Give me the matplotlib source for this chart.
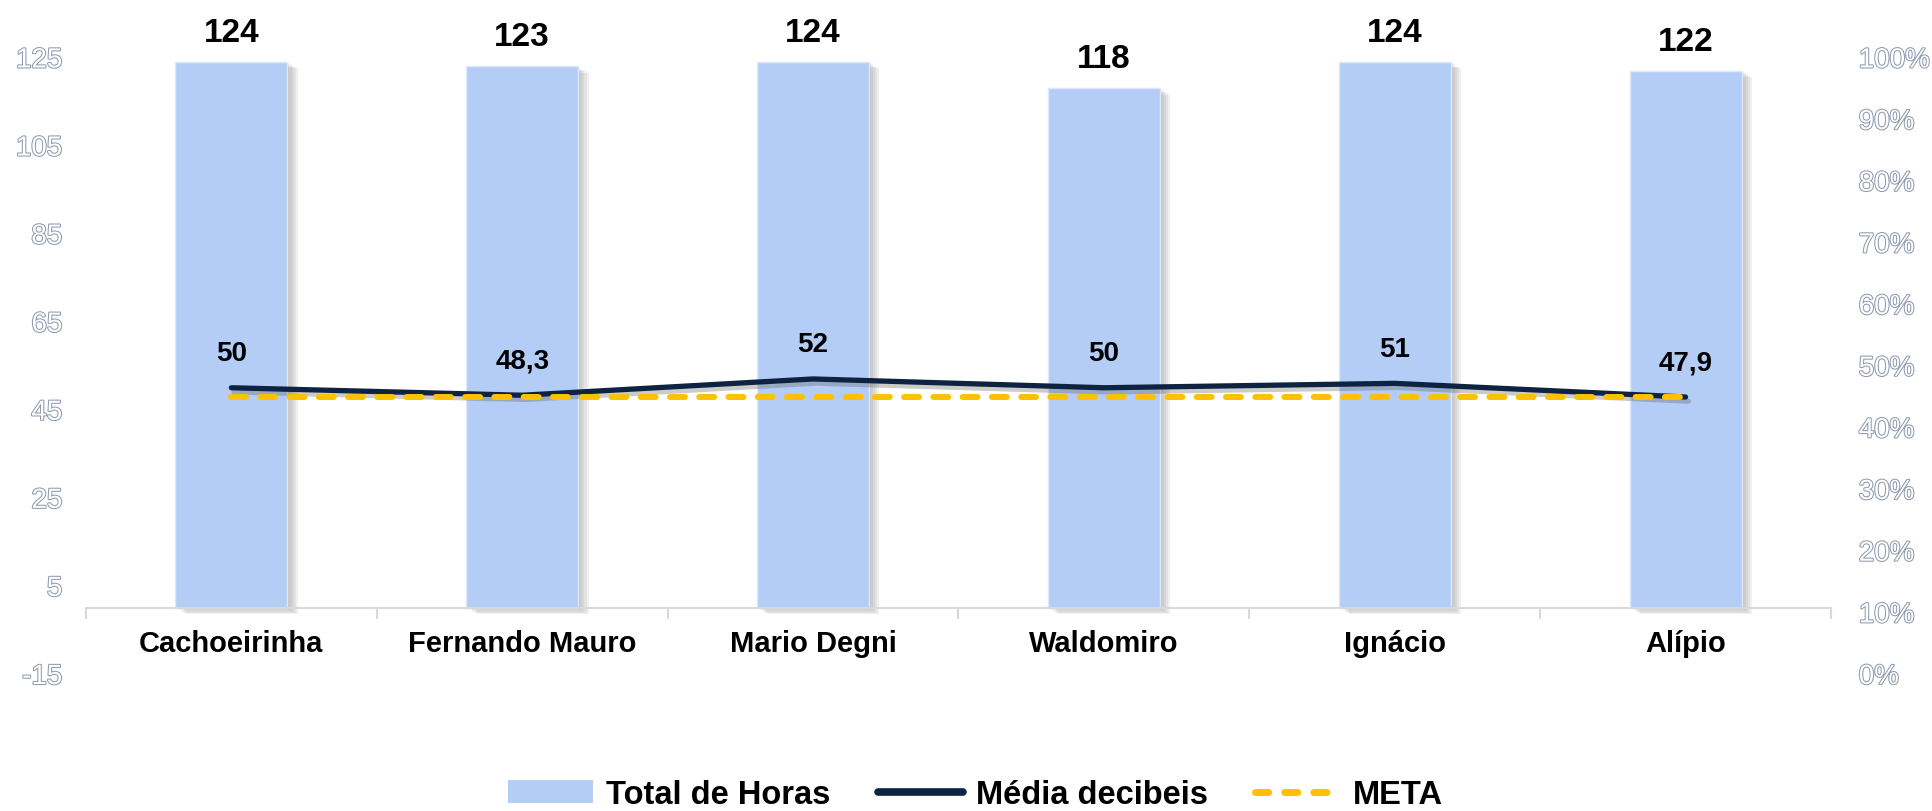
import matplotlib
matplotlib.use("Agg")
import matplotlib.pyplot as plt
import matplotlib.patheffects as pe
from matplotlib.patches import Patch
from matplotlib.lines import Line2D
import numpy as np

categories = ["Cachoeirinha", "Fernando Mauro", "Mario Degni", "Waldomiro", "Ignácio", "Alípio"]
total_horas = [124, 123, 124, 118, 124, 122]
media_db = [50, 48.3, 52, 50, 51, 47.9]
meta = [48, 48, 48, 48, 48, 48]
left_ticks = [-15, 5, 25, 45, 65, 85, 105, 125]
right_ticks = [0, 0.1, 0.2, 0.3, 0.4, 0.5, 0.6, 0.7, 0.8, 0.9, 1.0]
legend_labels = ["Total de Horas", "Média decibeis", "META"]

BAR_COLOR = "#B4CDF6"
LINE_COLOR = "#0E2341"
META_COLOR = "#FFC000"
AXIS_GRAY = "#d9d9d9"

plt.rcParams["font.family"] = ["Liberation Sans", "DejaVu Sans"]
plt.rcParams["axes.unicode_minus"] = False

fig = plt.figure(figsize=(19.32, 8.12), dpi=100)
ax = fig.add_axes([0.0445, 0.1687, 0.9032, 0.7593])

x = np.arange(len(categories))

# bars with a soft drop shadow (a few stacked faint shadows)
bar_shadow = [pe.SimplePatchShadow(offset=(d, -d * 0.6), shadow_rgbFace="#606060", alpha=0.09)
              for d in (1.5, 3, 4.5, 6, 7.5)]
bars = ax.bar(x, total_horas, width=0.385, color=BAR_COLOR, edgecolor="#dde8fa",
              linewidth=1, zorder=2)
for b in bars:
    b.set_path_effects(bar_shadow + [pe.Normal()])

ax.plot(x, media_db, color=LINE_COLOR, lw=3.8, solid_capstyle="round", zorder=4,
        path_effects=[pe.SimpleLineShadow(offset=(2, -3), shadow_color="#555555", alpha=0.3),
                      pe.Normal()])
ax.plot(x, meta, color=META_COLOR, lw=4.3, linestyle=(0, (2.5, 2.4)), dash_capstyle="round",
        zorder=5)

# data labels
for i, v in enumerate(total_horas):
    ax.annotate(str(v), (i, v), xytext=(0, 15), textcoords="offset points", ha="center",
                va="baseline", fontsize=24, fontweight="bold")
for i, v in enumerate(media_db):
    ax.annotate(f"{v:g}".replace(".", ","), (i, v), xytext=(0, 20), textcoords="offset points",
                ha="center", va="baseline", fontsize=20, fontweight="bold", zorder=6)

ax.set_xlim(-0.5, len(categories) - 0.5)
ax.set_ylim(-15, 125)
ax.set_yticks(left_ticks)

for s in ["left", "right", "top"]:
    ax.spines[s].set_visible(False)
ax.spines["bottom"].set_position(("data", 0))
ax.spines["bottom"].set_color(AXIS_GRAY)
ax.spines["bottom"].set_linewidth(1.5)

ax.set_xticks(np.arange(-0.5, len(categories), 1))
ax.set_xticklabels([])
ax.tick_params(axis="x", which="major", length=8, width=1.5, color=AXIS_GRAY)
ax.set_xticks(x, minor=True)
ax.set_xticklabels(categories, minor=True, fontsize=21, fontweight="bold")
ax.tick_params(axis="x", which="minor", length=0, pad=15)

outline = [pe.withStroke(linewidth=1.5, foreground="#8f9bb0")]
ax.tick_params(axis="y", length=0, pad=17, labelsize=20)
for lbl in ax.get_yticklabels():
    lbl.set_color("white")
    lbl.set_path_effects(outline)

ax2 = ax.twinx()
ax2.set_ylim(0, 1)
ax2.set_yticks(right_ticks)
ax2.set_yticklabels([f"{int(round(t * 100))}%" for t in right_ticks])
for s in ax2.spines.values():
    s.set_visible(False)
ax2.tick_params(axis="y", length=0, pad=20, labelsize=20)
for lbl in ax2.get_yticklabels():
    lbl.set_color("white")
    lbl.set_path_effects(outline)

handles = [
    Patch(facecolor=BAR_COLOR, edgecolor="none"),
    Line2D([], [], color=LINE_COLOR, lw=5.5, solid_capstyle="round"),
    Line2D([], [], color=META_COLOR, lw=5, linestyle=(0, (1.9, 2.3)), dash_capstyle="round"),
]
fig.legend(handles, legend_labels, loc="center", bbox_to_anchor=(0.505, 0.02), ncol=3,
           frameon=False, handlelength=2.6, handletextpad=0.4, columnspacing=1.45,
           prop={"weight": "bold", "size": 23.5})

fig.savefig("out.png", dpi=100)
